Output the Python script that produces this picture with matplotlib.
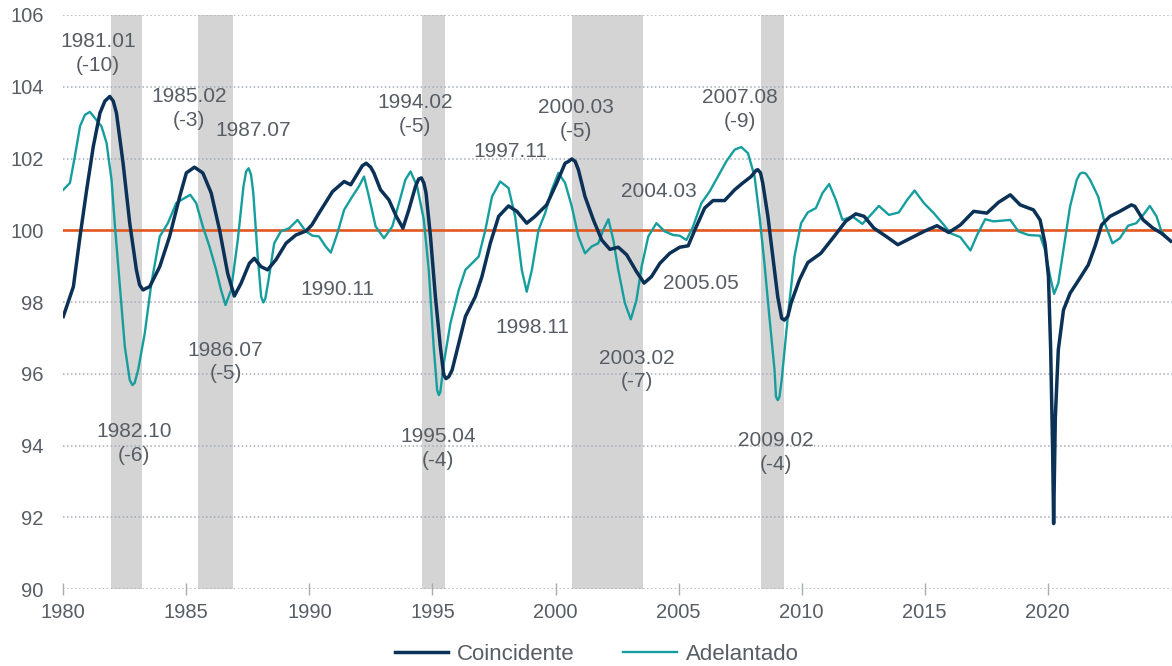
import matplotlib
matplotlib.use('Agg')
import matplotlib.pyplot as plt

# --- Data ---
coin_t = [1980.00, 1980.41, 1980.68, 1980.95, 1981.22, 1981.49, 1981.69, 1981.89, 1982.03, 1982.16,
          1982.43, 1982.70, 1982.97, 1983.10, 1983.24, 1983.38, 1983.51, 1983.92, 1984.32, 1984.73,
          1985.00, 1985.33, 1985.67, 1986.01, 1986.35, 1986.68, 1986.95, 1987.22, 1987.56, 1987.76,
          1988.03, 1988.30, 1988.64, 1989.05, 1989.45, 1989.86, 1990.10, 1990.39, 1990.94, 1991.41,
          1991.68, 1992.01, 1992.15, 1992.31, 1992.49, 1992.62, 1992.89, 1993.23, 1993.53, 1993.80,
          1994.04, 1994.31, 1994.44, 1994.55, 1994.65, 1994.74, 1994.92, 1995.12, 1995.32, 1995.46,
          1995.55, 1995.66, 1995.80, 1996.07, 1996.34, 1996.74, 1997.01, 1997.35, 1997.69, 1998.09,
          1998.43, 1998.83, 1999.17, 1999.64, 2000.05, 2000.39, 2000.53, 2000.66, 2000.80, 2000.93,
          2001.20, 2001.54, 2001.88, 2002.21, 2002.55, 2002.89, 2003.29, 2003.60, 2003.90, 2004.24,
          2004.64, 2005.05, 2005.39, 2005.66, 2006.06, 2006.40, 2006.87, 2007.28, 2007.61, 2007.95,
          2008.15, 2008.22, 2008.33, 2008.42, 2008.63, 2008.83, 2009.03, 2009.19, 2009.30, 2009.44,
          2009.57, 2009.91, 2010.25, 2010.78, 2011.32, 2011.79, 2012.20, 2012.54, 2012.94, 2013.48,
          2013.91, 2014.43, 2014.97, 2015.50, 2015.98, 2016.45, 2016.99, 2017.53, 2018.00, 2018.48,
          2018.88, 2019.42, 2019.69, 2019.89, 2020.03, 2020.12, 2020.20, 2020.24, 2020.31, 2020.43,
          2020.64, 2020.91, 2021.31, 2021.65, 2021.92, 2022.19, 2022.53, 2022.93, 2023.40, 2023.54,
          2023.88, 2024.28, 2024.62, 2025.00]
coin_v = [97.60, 98.43, 99.83, 101.13, 102.34, 103.27, 103.60, 103.73, 103.60, 103.27,
          101.87, 100.20, 98.90, 98.48, 98.34, 98.39, 98.43, 98.99, 99.83, 100.94,
          101.60, 101.76, 101.60, 101.04, 100.01, 98.80, 98.17, 98.52, 99.08, 99.22,
          98.99, 98.90, 99.18, 99.64, 99.87, 99.98, 100.15, 100.48, 101.08, 101.36,
          101.27, 101.64, 101.80, 101.87, 101.76, 101.60, 101.13, 100.85, 100.39, 100.06,
          100.57, 101.22, 101.43, 101.46, 101.32, 101.04, 99.83, 98.15, 96.76, 95.97,
          95.87, 95.92, 96.11, 96.85, 97.60, 98.15, 98.71, 99.64, 100.39, 100.68,
          100.53, 100.20, 100.39, 100.71, 101.32, 101.87, 101.92, 101.99, 101.92, 101.69,
          100.94, 100.29, 99.73, 99.47, 99.53, 99.32, 98.85, 98.53, 98.71, 99.08,
          99.36, 99.53, 99.57, 100.01, 100.62, 100.83, 100.83, 101.13, 101.32, 101.50,
          101.67, 101.69, 101.60, 101.32, 100.39, 99.27, 98.15, 97.55, 97.50, 97.60,
          97.97, 98.62, 99.10, 99.36, 99.83, 100.25, 100.46, 100.39, 100.06, 99.81,
          99.60, 99.78, 99.97, 100.13, 99.94, 100.15, 100.53, 100.48, 100.78, 100.99,
          100.71, 100.57, 100.29, 99.64, 98.71, 96.67, 93.87, 91.83, 94.80, 96.67,
          97.78, 98.25, 98.67, 99.04, 99.55, 100.15, 100.39, 100.53, 100.71, 100.67,
          100.29, 100.06, 99.92, 99.70]

adel_t = [1980.00, 1980.27, 1980.47, 1980.68, 1980.88, 1981.08, 1981.28, 1981.55, 1981.76, 1981.96,
          1982.09, 1982.30, 1982.50, 1982.70, 1982.81, 1982.90, 1983.04, 1983.31, 1983.58, 1983.92,
          1984.25, 1984.59, 1984.93, 1985.16, 1985.40, 1985.67, 1985.94, 1986.21, 1986.41, 1986.59,
          1986.82, 1987.09, 1987.32, 1987.43, 1987.53, 1987.63, 1987.72, 1987.90, 1988.04, 1988.13,
          1988.21, 1988.34, 1988.57, 1988.84, 1989.18, 1989.52, 1989.86, 1990.13, 1990.39, 1990.66,
          1990.87, 1991.14, 1991.41, 1991.74, 1992.01, 1992.22, 1992.42, 1992.69, 1993.03, 1993.37,
          1993.64, 1993.90, 1994.11, 1994.38, 1994.65, 1994.85, 1995.05, 1995.19, 1995.26, 1995.32,
          1995.46, 1995.73, 1996.07, 1996.34, 1996.60, 1996.88, 1997.15, 1997.42, 1997.75, 1998.09,
          1998.36, 1998.63, 1998.83, 1999.04, 1999.31, 1999.58, 1999.85, 2000.12, 2000.39, 2000.66,
          2000.93, 2001.20, 2001.47, 2001.74, 2001.94, 2002.15, 2002.35, 2002.55, 2002.82, 2003.06,
          2003.29, 2003.50, 2003.77, 2004.10, 2004.44, 2004.78, 2005.05, 2005.32, 2005.59, 2005.93,
          2006.26, 2006.60, 2006.94, 2007.28, 2007.55, 2007.82, 2008.09, 2008.29, 2008.49, 2008.69,
          2008.90, 2008.96, 2009.03, 2009.10, 2009.19, 2009.44, 2009.71, 2009.98, 2010.25, 2010.58,
          2010.85, 2011.12, 2011.39, 2011.66, 2012.06, 2012.47, 2012.81, 2013.14, 2013.55, 2013.95,
          2014.29, 2014.59, 2014.97, 2015.37, 2015.78, 2016.05, 2016.45, 2016.86, 2017.13, 2017.46,
          2017.80, 2018.48, 2018.81, 2019.22, 2019.69, 2019.89, 2020.10, 2020.26, 2020.43, 2020.64,
          2020.91, 2021.18, 2021.31, 2021.42, 2021.55, 2021.72, 2022.05, 2022.32, 2022.63, 2022.93,
          2023.27, 2023.60, 2023.88, 2024.15, 2024.42, 2024.62, 2025.00]
adel_v = [101.13, 101.32, 102.06, 102.90, 103.22, 103.30, 103.13, 102.90, 102.43, 101.41,
          100.20, 98.43, 96.76, 95.83, 95.69, 95.75, 96.11, 97.13, 98.53, 99.83,
          100.20, 100.76, 100.90, 100.99, 100.76, 100.11, 99.55, 98.90, 98.34, 97.92,
          98.34, 99.73, 101.22, 101.64, 101.73, 101.55, 101.04, 99.27, 98.15, 97.99,
          98.10, 98.62, 99.64, 99.97, 100.06, 100.29, 99.97, 99.85, 99.83, 99.55,
          99.38, 99.92, 100.57, 100.94, 101.22, 101.50, 100.94, 100.11, 99.78, 100.11,
          100.76, 101.41, 101.64, 101.22, 100.29, 98.90, 96.76, 95.55, 95.41, 95.50,
          96.29, 97.41, 98.34, 98.90, 99.08, 99.27, 100.01, 100.94, 101.36, 101.18,
          100.39, 98.90, 98.29, 98.90, 100.01, 100.48, 101.13, 101.60, 101.32, 100.67,
          99.83, 99.36, 99.55, 99.64, 100.01, 100.31, 99.73, 98.90, 97.97, 97.52,
          98.06, 98.99, 99.83, 100.20, 99.97, 99.87, 99.85, 99.73, 100.11, 100.76,
          101.08, 101.50, 101.92, 102.25, 102.32, 102.15, 101.50, 100.39, 99.08, 97.60,
          96.11, 95.36, 95.27, 95.36, 95.83, 97.60, 99.27, 100.20, 100.50, 100.62,
          101.04, 101.29, 100.85, 100.29, 100.39, 100.18, 100.43, 100.68, 100.43, 100.50,
          100.85, 101.11, 100.76, 100.48, 100.15, 99.92, 99.81, 99.44, 99.87, 100.31,
          100.25, 100.29, 99.97, 99.87, 99.85, 99.46, 98.71, 98.23, 98.53, 99.46,
          100.67, 101.41, 101.58, 101.61, 101.58, 101.41, 100.94, 100.20, 99.64, 99.78,
          100.13, 100.20, 100.43, 100.68, 100.39, 99.97, 99.69]

# recession bands (start, end) in years
bands_start = [1981.93, 1985.47, 1994.58, 2000.66, 2008.35]
bands_end = [1983.18, 1986.89, 1995.53, 2003.56, 2009.30]

# turning-point annotations
ann_text = ["1981.01\n(-10)", "1985.02\n(-3)", "1987.07", "1990.11", "1994.02\n(-5)",
            "1997.11", "2000.03\n(-5)", "2004.03", "2005.05", "2007.08\n(-9)",
            "1982.10\n(-6)", "1986.07\n(-5)", "1995.04\n(-4)", "1998.11", "2003.02\n(-7)",
            "2009.02\n(-4)"]
ann_x = [1981.41, 1985.10, 1987.70, 1991.13, 1994.29,
         1998.17, 2000.83, 2004.19, 2005.89, 2007.48,
         1982.86, 1986.59, 1995.24, 1999.08, 2003.30,
         2008.96]
ann_y = [104.93, 103.39, 102.78, 98.34, 103.22,
         102.19, 103.08, 101.07, 98.53, 103.36,
         94.06, 96.33, 93.92, 97.28, 96.11,
         93.82]

NAVY = '#0b3157'
TEAL = '#169e9f'
ORANGE = '#e2581f'
TXT = '#575d64'
GRID = '#a4acb4'

plt.rcParams['font.family'] = ['Liberation Sans', 'DejaVu Sans']

fig = plt.figure(figsize=(11.72, 6.66), dpi=100)
ax = fig.add_axes([0.054, 0.1152, 0.946, 0.8623])

for s, e in zip(bands_start, bands_end):
    ax.axvspan(s, e, color='#d4d4d4', lw=0, zorder=0)

ax.axhline(100, color=ORANGE, lw=1.9, zorder=2)
ax.plot(adel_t, adel_v, color=TEAL, lw=1.7, zorder=3, label='Adelantado',
        solid_joinstyle='round')
ax.plot(coin_t, coin_v, color=NAVY, lw=2.5, zorder=4, label='Coincidente',
        solid_joinstyle='round')

for txt, x, y in zip(ann_text, ann_x, ann_y):
    ax.text(x, y, txt, ha='center', va='center', fontsize=15, color=TXT,
            linespacing=1.32, zorder=5)

ax.set_xlim(1980, 2025.05)
ax.set_ylim(90, 106)
ax.set_yticks(range(90, 107, 2))
ax.set_xticks(range(1980, 2021, 5))
ax.grid(axis='y', linestyle=(0, (1, 1.6)), color=GRID, lw=1.1)
ax.set_axisbelow(True)
for sp in ax.spines.values():
    sp.set_visible(False)
ax.tick_params(axis='y', length=0, pad=14, labelsize=14.5, labelcolor=TXT)
ax.tick_params(axis='x', length=8, direction='inout', color=GRID, width=1,
               pad=6, labelsize=14.5, labelcolor=TXT)

h, l = ax.get_legend_handles_labels()
fig.legend(h[::-1], l[::-1], loc='center', bbox_to_anchor=(0.509, 0.018), ncol=2,
           frameon=False, fontsize=16, handlelength=2.4, handletextpad=0.4,
           columnspacing=2.2, labelcolor=TXT)

fig.savefig('out.png', dpi=100)
